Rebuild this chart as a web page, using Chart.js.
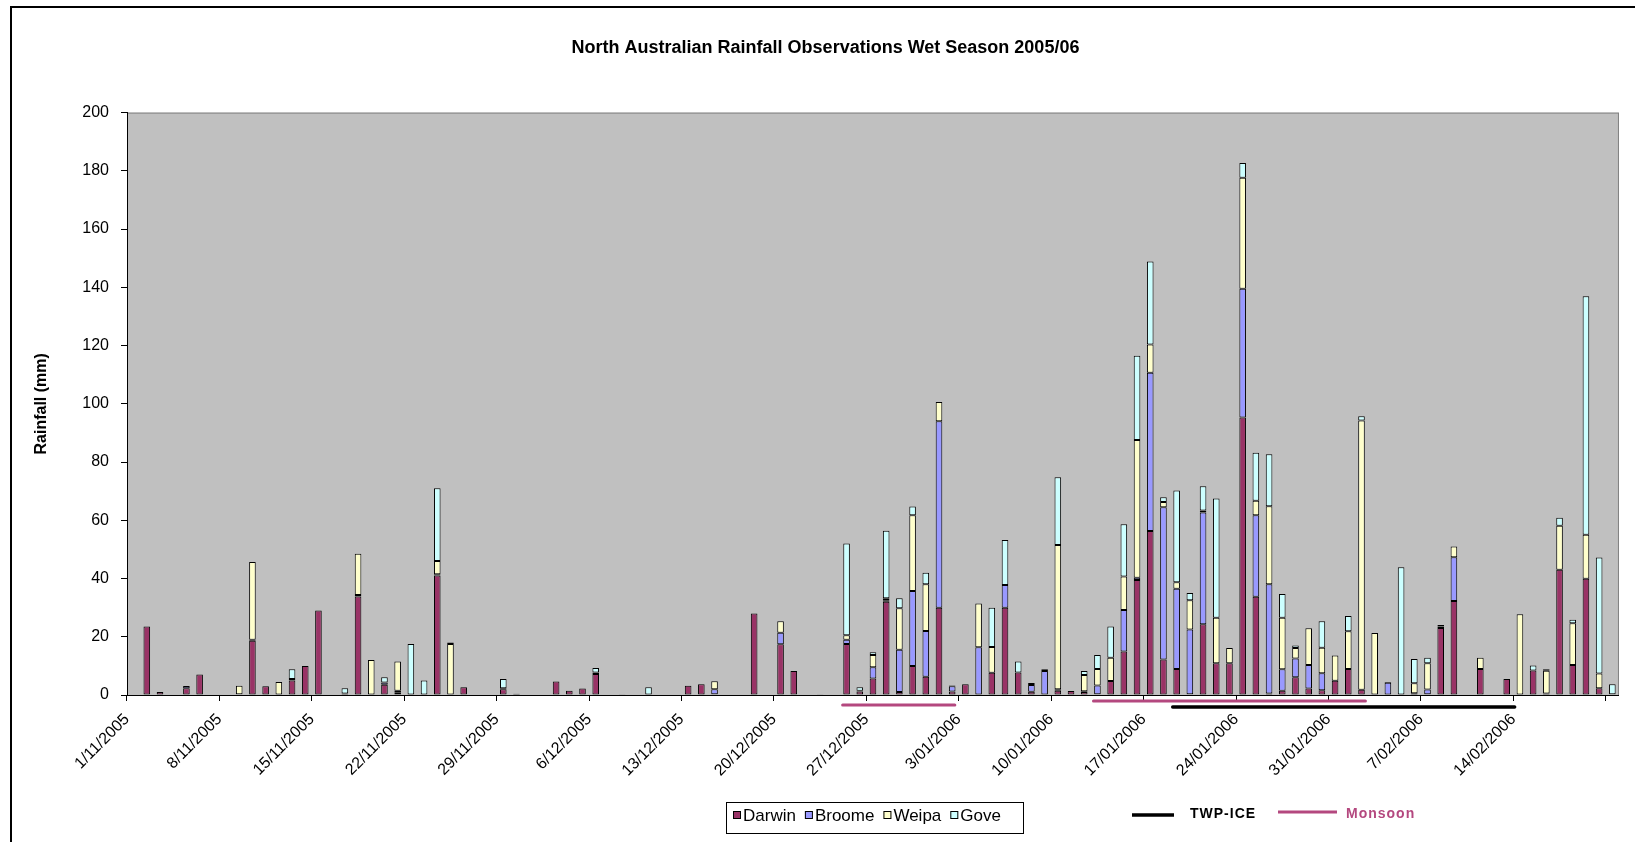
<!DOCTYPE html>
<html>
<head>
<meta charset="utf-8">
<script src="https://cdn.jsdelivr.net/npm/chart.js@4.4.0/dist/chart.umd.min.js"></script>
<style>
  html, body { margin: 0; padding: 0; background: #fff; }
</style>
</head>
<body>
<canvas id="rainChart" width="1635" height="842"></canvas>
<script>
// daily rainfall (mm), one row per week, first day 1/11/2005
const darwin = [
  null, 23.5, 1, null, 2.3, 7, null,
  null, 0.3, 18.6, 3, 0.2, 5, 10,
  29, null, 0.5, 33.8, null, 3.5, 0.8,
  0.2, null, 41, null, 2.7, null, null,
  2, 0.4, null, null, 4.6, 1.5, 2.2,
  7.2, null, 0.3, null, null, null, null,
  3.2, 3.7, 0.3, null, null, 28, null,
  17.4, 8.2, null, 0.3, null, 17.5, 1.2,
  5.7, 32, 1, 10, 6.3, 30, 1.2,
  3.7, 0.2, 7.6, 30, 7.7, 1.1, null,
  1.5, 1.4, 1, 0.3, 4.8, 14.9, 39.5,
  56.3, 12.2, 8.9, 0.3, 24.3, 10.9, 10.9,
  95.3, 33.7, 0.5, 1.5, 6.1, 2.2, 1.6,
  4.9, 8.9, 1.8, null, null, null, 0.6,
  0.3, 23, 32.3, null, 8.9, null, 5.5,
  0.2, 8.4, 0.5, 43, 10.3, 39.9, 2.3,
  0.3
];
const broome = [
  null, null, null, null, 0.8, null, null,
  null, null, 0.4, null, null, 0.5, null,
  null, null, null, 0.5, null, 0.8, 0.7,
  null, null, 0.5, null, null, null, null,
  0.3, null, null, null, null, null, null,
  0.5, null, null, null, null, null, null,
  null, null, 1.7, null, null, null, null,
  4, null, null, null, null, 1.5, 0.3,
  3.8, 0.5, 14.5, 25.7, 15.7, 64, 1.8,
  null, 16.2, null, 7.8, null, 2.3, 8.2,
  0.5, null, 0.3, 3, null, 14.3, 0.8,
  54.4, 52.3, 27.6, 22.2, 38.4, null, null,
  44.2, 28, 37.5, 7.3, 6.4, 8.1, 5.9,
  null, null, null, null, 4.2, null, null,
  1.6, 0.5, 15, null, null, null, null,
  null, null, null, null, null, null, null,
  null
];
const weipa = [
  null, null, null, null, null, null, null,
  null, 2.9, 26.7, null, 4.3, null, null,
  null, null, null, 14.2, 12, null, 10,
  null, null, 4.5, 17.5, null, null, null,
  null, null, null, null, null, null, null,
  null, null, null, null, null, null, null,
  null, null, 2.7, null, null, null, null,
  3.9, null, null, null, null, 1.5, null,
  4.2, 0.7, 14.3, 26, 16, 6.6, null,
  null, 15, 8.9, null, null, null, 0.6,
  49.5, null, 5.6, 5.6, 8, 11.5, 47.3,
  9.7, 1.8, 2.2, 10, 0.7, 15.6, 5.2,
  38.1, 5, 26.8, 17.7, 3.6, 12.6, 8.7,
  8.7, 13, 92.5, 21.3, null, null, 3.4,
  9, 0.5, 3.7, null, 3.9, null, null,
  27.5, null, 7.8, 15.1, 14.3, 15.1, 5.1,
  null
];
const gove = [
  null, null, null, null, null, null, null,
  null, null, null, null, null, 3.3, null,
  null, null, 1.8, null, null, 1.8, null,
  17.3, 5, 25, 0.5, null, null, null,
  3.2, null, null, null, null, null, null,
  1.6, null, null, null, 2.7, null, null,
  null, null, null, null, null, null, null,
  null, null, null, null, null, 31.5, 1.2,
  1, 23.2, 3.4, 3, 4, null, 0.3,
  null, null, 13.5, 15.4, 3.8, 0.7, null,
  23.3, null, 1.3, 4.8, 10.7, 17.9, 28.9,
  28.5, 1.6, 31.5, 2.5, 8.3, 41, null,
  5.1, 16.5, 17.9, 8.2, 0.9, null, 9.1,
  null, 5.2, 1.4, null, 0.3, 43.9, 8.4,
  1.9, null, null, null, null, null, null,
  null, 1.7, 0.5, 2.8, 1.2, 81.9, 39.8,
  3.4
];

// periods under the axis, in days from 1/11/2005
const monsoonPeriods = [[54.2, 62.7], [73.2, 93.8]];
const twpIcePeriods = [[79.2, 105.1]];

// category labels, one per day
let days = [];
for (let i = 0; i < darwin.length; i++) {
    let d = new Date(2005, 10, 1 + i);
    days.push(d.getDate() + '/' + String(d.getMonth() + 1).padStart(2, '0') + '/' + d.getFullYear());
}
// only these get a label under the axis
const tickLabels = ['1/11/2005', '8/11/2005', '15/11/2005', '22/11/2005', '29/11/2005', '6/12/2005',
    '13/12/2005', '20/12/2005', '27/12/2005', '3/01/2006', '10/01/2006', '17/01/2006',
    '24/01/2006', '31/01/2006', '7/02/2006', '14/02/2006'];

const monsoonColor = '#b4487f';

function dayToPixel(scale, d) {
    let w = scale.getPixelForValue(1) - scale.getPixelForValue(0);
    return scale.getPixelForValue(0) + (d - 0.5) * w;
}

// plot background, outer frame, legend and the period bars
const excelLook = {
    id: 'excelLook',
    beforeDraw(chart) {
        const ctx = chart.ctx;
        const a = chart.chartArea;
        ctx.save();
        ctx.fillStyle = '#fff';
        ctx.fillRect(0, 0, chart.width, chart.height);
        ctx.strokeStyle = '#000';
        ctx.lineWidth = 2;
        ctx.beginPath();
        ctx.moveTo(11, chart.height + 5);
        ctx.lineTo(11, 7);
        ctx.lineTo(chart.width + 5, 7);
        ctx.stroke();
        ctx.fillStyle = '#c0c0c0';
        ctx.fillRect(a.left, a.top, a.right - a.left, a.bottom - a.top);
        ctx.strokeStyle = '#808080';
        ctx.lineWidth = 1;
        ctx.strokeRect(a.left + 0.5, a.top + 0.5, a.right - a.left - 1, a.bottom - a.top);
        ctx.restore();
    },
    afterDraw(chart) {
        const ctx = chart.ctx;
        const x = chart.scales.x;
        const bottom = chart.chartArea.bottom;
        ctx.save();
        // monsoon / TWP-ICE periods
        ctx.lineCap = 'round';
        const monsoonRows = [10, 6];
        monsoonPeriods.forEach(function (p, i) {
            ctx.strokeStyle = monsoonColor;
            ctx.lineWidth = 3;
            ctx.beginPath();
            ctx.moveTo(dayToPixel(x, p[0]), bottom + monsoonRows[i]);
            ctx.lineTo(dayToPixel(x, p[1]), bottom + monsoonRows[i]);
            ctx.stroke();
        });
        twpIcePeriods.forEach(function (p) {
            ctx.strokeStyle = '#000';
            ctx.lineWidth = 3.5;
            ctx.beginPath();
            ctx.moveTo(dayToPixel(x, p[0]), bottom + 12);
            ctx.lineTo(dayToPixel(x, p[1]), bottom + 12);
            ctx.stroke();
        });

        // series legend in a box
        ctx.lineCap = 'butt';
        ctx.strokeStyle = '#000';
        ctx.lineWidth = 1;
        ctx.strokeRect(726.5, 802.5, 297, 31);
        ctx.font = '17px "Liberation Sans", Arial, sans-serif';
        ctx.textBaseline = 'middle';
        ctx.textAlign = 'left';
        let lx = 733;
        chart.data.datasets.forEach(function (ds) {
            ctx.fillStyle = ds.backgroundColor;
            ctx.fillRect(lx, 811, 8, 8);
            ctx.strokeRect(lx + 0.5, 811.5, 7, 7);
            ctx.fillStyle = '#000';
            ctx.fillText(ds.label, lx + 10, 816);
            lx += 10 + ctx.measureText(ds.label).width + 9;
        });

        // period legend
        ctx.font = 'bold 14px "Liberation Sans", Arial, sans-serif';
        ctx.letterSpacing = '1px';
        ctx.lineWidth = 3.5;
        ctx.beginPath();
        ctx.moveTo(1132, 815);
        ctx.lineTo(1174, 815);
        ctx.stroke();
        ctx.fillText('TWP-ICE', 1190, 814);
        ctx.strokeStyle = monsoonColor;
        ctx.lineWidth = 3;
        ctx.beginPath();
        ctx.moveTo(1278, 812);
        ctx.lineTo(1337, 812);
        ctx.stroke();
        ctx.fillStyle = monsoonColor;
        ctx.fillText('Monsoon', 1346, 814);
        ctx.restore();
    }
};

var rain = document.getElementById('rainChart').getContext('2d');
var rainChart = new Chart(rain, {
    type: 'bar',
    plugins: [excelLook],
    data: {
        labels: days,
        datasets: [
            { label: 'Darwin', data: darwin, backgroundColor: '#993366' },
            { label: 'Broome', data: broome, backgroundColor: '#9999ff' },
            { label: 'Weipa', data: weipa, backgroundColor: '#ffffcc' },
            { label: 'Gove', data: gove, backgroundColor: '#ccffff' }
        ]
    },
    options: {
        responsive: false,
        animation: false,
        layout: { padding: { left: 32, right: 16, top: 0, bottom: 0 } },
        datasets: {
            bar: {
                borderColor: '#000',
                borderWidth: 1,
                borderSkipped: false,
                barPercentage: 0.5,
                categoryPercentage: 1
            }
        },
        plugins: {
            legend: { display: false },
            tooltip: { enabled: false },
            title: {
                display: true,
                text: 'North Australian Rainfall Observations Wet Season 2005/06',
                color: '#000',
                font: { family: '"Liberation Sans", Arial, sans-serif', size: 18, weight: 'bold', lineHeight: 1.2 },
                padding: { top: 37, bottom: 54 }
            }
        },
        scales: {
            x: {
                stacked: true,
                border: { color: '#000', width: 1 },
                grid: {
                    offset: true,
                    drawOnChartArea: false,
                    drawTicks: true,
                    tickLength: 6,
                    color: function (c) { return c.index % 7 === 0 ? '#000' : 'rgba(0,0,0,0)'; }
                },
                ticks: {
                    autoSkip: false,
                    minRotation: 45,
                    maxRotation: 45,
                    labelOffset: -6.6,
                    padding: 9,
                    color: '#000',
                    font: { family: '"Liberation Sans", Arial, sans-serif', size: 16 },
                    callback: function (v, i) { return tickLabels.includes(days[i]) ? days[i] : ''; }
                },
                afterFit: function (s) { s.height = 147; }
            },
            y: {
                stacked: true,
                min: 0,
                max: 200,
                border: { color: '#000', width: 1 },
                grid: { drawOnChartArea: false, drawTicks: true, tickLength: 6, color: '#000' },
                ticks: {
                    stepSize: 20,
                    padding: 12,
                    color: '#000',
                    font: { family: '"Liberation Sans", Arial, sans-serif', size: 16 }
                },
                title: {
                    display: true,
                    text: 'Rainfall (mm)',
                    color: '#000',
                    font: { family: '"Liberation Sans", Arial, sans-serif', size: 16, weight: 'bold' },
                    padding: { top: 0, bottom: 0 }
                },
                afterFit: function (s) { s.width = 95; }
            }
        }
    }
});
</script>
</body>
</html>
